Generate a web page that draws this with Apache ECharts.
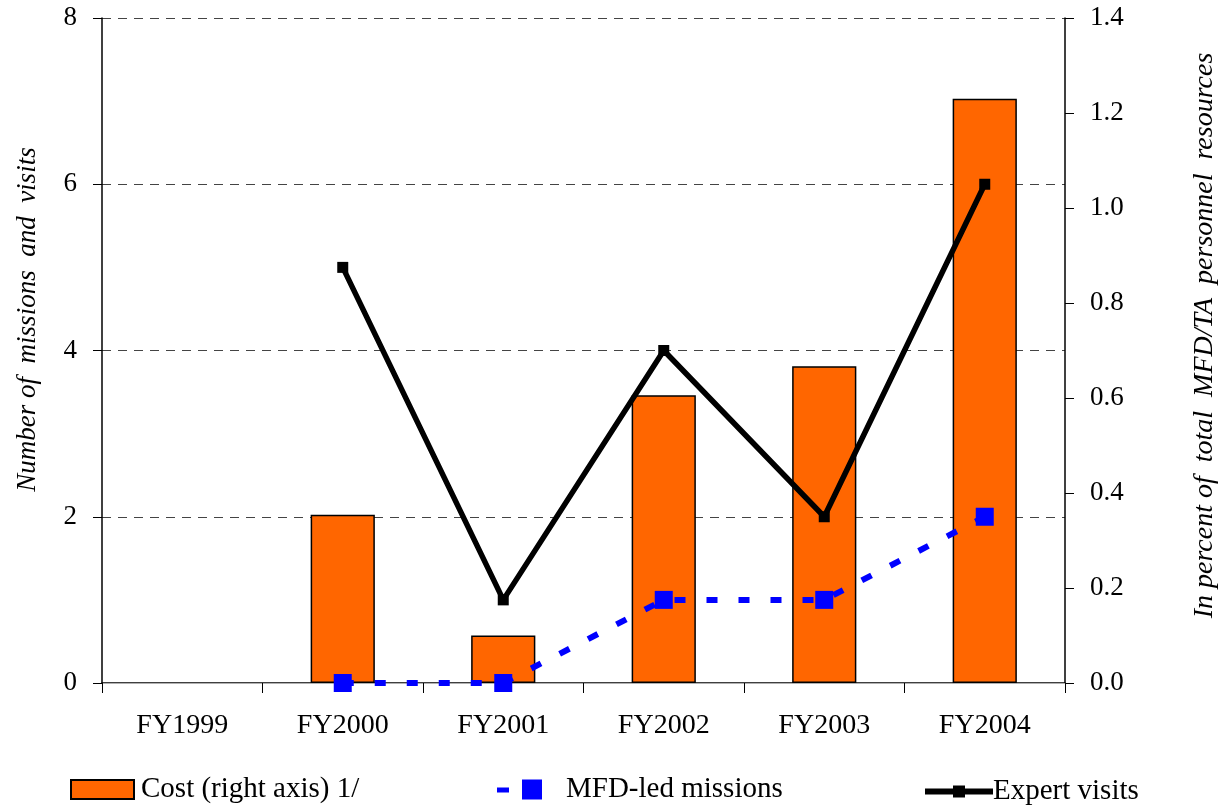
<!DOCTYPE html>
<html>
<head>
<meta charset="utf-8">
<script src="https://cdn.jsdelivr.net/npm/echarts@6/dist/echarts.min.js"></script>
<style>
  html, body { margin: 0; padding: 0; background: #fff; }
  #chart { width: 1227px; height: 806px; }
</style>
</head>
<body>
<div id="chart"></div>
<script>
// Fiscal years on the category axis
const years = ['FY1999', 'FY2000', 'FY2001', 'FY2002', 'FY2003', 'FY2004'];
// Cost in percent of total MFD/TA personnel resources (right axis)
const costPct = [null, 0.354, 0.10, 0.606, 0.667, 1.23];
// Number of MFD-led missions (left axis)
const mfdMissions = [null, 0, 0, 1, 1, 2];
// Number of expert visits (left axis)
const expertVisits = [null, 5, 1, 4, 2, 6];
// Tick ranges
const leftTicks = { min: 0, max: 8, interval: 2 };
const rightTicks = { min: 0, max: 1.4, interval: 0.2 };

const FONT = 'Liberation Serif';
const chart = echarts.init(document.getElementById('chart'));

const legendText = { fontFamily: FONT, fontSize: 29, color: '#000' };

chart.setOption({
  animation: false,
  backgroundColor: '#ffffff',
  textStyle: { fontFamily: FONT, color: '#000' },
  grid: { left: 102, right: 159, top: 18, bottom: 123 },
  legend: [
    {
      data: [{ name: 'Cost (right axis) 1/', icon: 'rect' }],
      left: 70, top: 775, padding: 0,
      itemWidth: 63, itemHeight: 19,
      textStyle: Object.assign({ padding: [0, 0, 0, 2] }, legendText)
    },
    {
      // short dash followed by the square marker
      data: [{ name: 'MFD-led missions', icon: 'path://M0,8h12v5h-12z M25,0h20v20h-20z' }],
      left: 497, top: 775, padding: 0,
      itemWidth: 45, itemHeight: 20,
      textStyle: Object.assign({ padding: [0, 0, 0, 19] }, legendText)
    },
    {
      data: ['Expert visits'],
      left: 922, top: 777, padding: 0,
      itemWidth: 68, itemHeight: 15,
      lineStyle: { width: 6 },
      textStyle: Object.assign({ padding: [0, 0, 0, -5] }, legendText)
    }
  ],
  xAxis: [
    {
      type: 'category',
      data: years,
      boundaryGap: true,
      axisLine: { lineStyle: { color: '#000', width: 1.5 } },
      axisTick: { show: true, length: 10, inside: false, lineStyle: { color: '#000' } },
      axisLabel: { fontFamily: FONT, fontSize: 28, color: '#000', margin: 29 }
    },
    {
      type: 'category',
      data: years,
      position: 'top',
      axisLine: { lineStyle: { color: '#b0b0b0', width: 1 } },
      axisTick: { show: false },
      axisLabel: { show: false }
    }
  ],
  yAxis: [
    {
      type: 'value',
      min: leftTicks.min, max: leftTicks.max, interval: leftTicks.interval,
      name: 'Number of  missions  and  visits',
      nameLocation: 'middle',
      nameGap: 61,
      nameRotate: 90,
      nameTextStyle: {
        fontFamily: FONT, fontSize: 27, fontStyle: 'italic', color: '#000',
        padding: [0, 0, 0, 62]
      },
      axisLine: { show: true, lineStyle: { color: '#000', width: 1.5 } },
      axisTick: { show: true, length: 9, lineStyle: { color: '#000' } },
      axisLabel: { fontFamily: FONT, fontSize: 27, color: '#000', margin: 25 },
      splitLine: {
        show: true,
        lineStyle: { color: '#444', type: [9, 7], width: 1 }
      }
    },
    {
      type: 'value',
      min: rightTicks.min, max: rightTicks.max, interval: rightTicks.interval,
      position: 'right',
      name: 'In percent of  total  MFD/TA  personnel  resources',
      nameLocation: 'middle',
      nameGap: 126,
      nameRotate: 90,
      nameTextStyle: {
        fontFamily: FONT, fontSize: 28, fontStyle: 'italic', color: '#000',
        padding: [0, 0, 0, 30]
      },
      axisLine: { show: true, lineStyle: { color: '#000', width: 1.5 } },
      axisTick: { show: true, length: 9, lineStyle: { color: '#000' } },
      axisLabel: {
        fontFamily: FONT, fontSize: 27, color: '#000', margin: 25,
        formatter: v => v.toFixed(1)
      },
      splitLine: { show: false }
    }
  ],
  series: [
    {
      name: 'Cost (right axis) 1/',
      type: 'bar',
      yAxisIndex: 1,
      data: costPct,
      barWidth: '40%',
      itemStyle: { color: '#ff6600', borderColor: '#000', borderWidth: 1.5 },
      z: 1
    },
    {
      name: 'MFD-led missions',
      type: 'line',
      yAxisIndex: 0,
      data: mfdMissions,
      symbol: 'rect',
      symbolSize: 18,
      showSymbol: true,
      itemStyle: { color: '#0000ff' },
      lineStyle: { color: '#0000ff', width: 6, type: [11, 21] },
      z: 3
    },
    {
      name: 'Expert visits',
      type: 'line',
      yAxisIndex: 0,
      data: expertVisits,
      symbol: 'rect',
      symbolSize: 11,
      itemStyle: { color: '#000' },
      lineStyle: { color: '#000', width: 5.5 },
      z: 4
    }
  ]
});
</script>
</body>
</html>
